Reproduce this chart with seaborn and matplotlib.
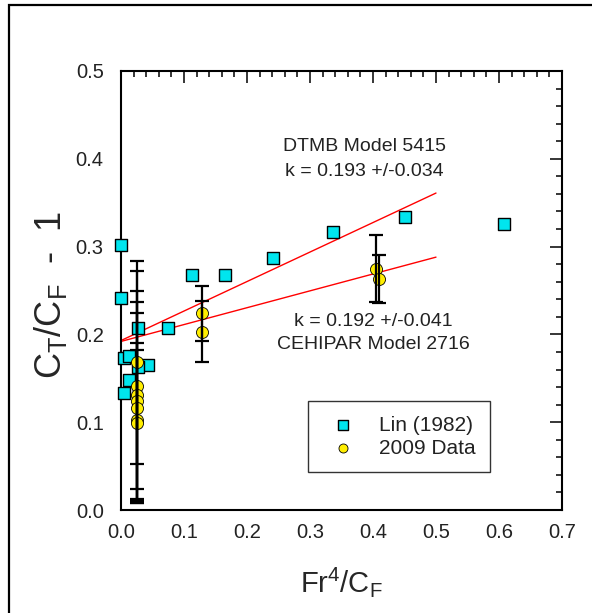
import numpy as np
import pandas as pd
import matplotlib
matplotlib.use("Agg")
import matplotlib.pyplot as plt
from matplotlib.patches import Rectangle
from matplotlib.ticker import MultipleLocator, FormatStrFormatter
import seaborn as sns

sns.set_theme(style="white")
plt.rcParams["font.family"] = ["Liberation Sans", "DejaVu Sans"]
plt.rcParams["mathtext.fontset"] = "custom"
plt.rcParams["mathtext.rm"] = "Liberation Sans"
plt.rcParams["mathtext.it"] = "Liberation Sans"

# Lin (1982) measurements
lin_x = [0.000, 0.000, 0.027, 0.074, 0.004, 0.012, 0.043, 0.027, 0.012, 0.004,
         0.112, 0.165, 0.241, 0.336, 0.451, 0.608]
lin_y = [0.302, 0.242, 0.207, 0.207, 0.173, 0.175, 0.165, 0.163, 0.148, 0.133,
         0.268, 0.268, 0.287, 0.317, 0.334, 0.326]

# 2009 data with uncertainty
new_x = [0.025, 0.025, 0.026, 0.026, 0.026, 0.025, 0.025,
         0.128, 0.129, 0.405, 0.410]
new_y = [0.168, 0.141, 0.131, 0.124, 0.116, 0.103, 0.099,
         0.224, 0.203, 0.275, 0.263]
new_err = [0.116, 0.131, 0.118, 0.113, 0.108, 0.079, 0.091,
           0.031, 0.035, 0.038, 0.027]

# Linear fits: intercept k and slope
fit_k = [0.193, 0.192]
fit_slope = [0.336, 0.192]
fit_xmax = 0.5

fig = plt.figure(figsize=(5.92, 6.13), dpi=100)
ax = fig.add_axes([121 / 592, 103 / 613, 441 / 592, 439 / 613])

# outer frame
fig.patches.append(Rectangle((9 / 592, -0.1), 1.2, (613 - 5) / 613 + 0.1,
                             transform=fig.transFigure, fill=False,
                             edgecolor="black", linewidth=1.6))

# fitted lines
for k, s in zip(fit_k, fit_slope):
    xs = np.array([0.0, fit_xmax])
    sns.lineplot(x=xs, y=k + s * xs, ax=ax, color="red", linewidth=1.0,
                 zorder=2)

lin_df = pd.DataFrame({"x": lin_x, "y": lin_y})
new_df = pd.DataFrame({"x": new_x, "y": new_y})

sns.scatterplot(data=lin_df, x="x", y="y", ax=ax, marker="s", s=75,
                color="#00e5ee", edgecolor="black", linewidth=1.0, zorder=3,
                label="Lin (1982)", clip_on=False)
sns.scatterplot(data=new_df, x="x", y="y", ax=ax, marker="o", s=75,
                color="#ffee00", edgecolor="black", linewidth=0.6, zorder=4,
                label="2009 Data", clip_on=False)
ax.errorbar(new_x, new_y, yerr=new_err, fmt="none", ecolor="black",
            elinewidth=1.6, capsize=5, capthick=1.6, zorder=5)

ax.set_xlim(0, 0.7)
ax.set_ylim(0, 0.5)
ax.xaxis.set_major_locator(MultipleLocator(0.1))
ax.xaxis.set_minor_locator(MultipleLocator(0.02))
ax.yaxis.set_major_locator(MultipleLocator(0.1))
ax.yaxis.set_minor_locator(MultipleLocator(0.02))
ax.xaxis.set_major_formatter(FormatStrFormatter("%.1f"))
ax.yaxis.set_major_formatter(FormatStrFormatter("%.1f"))
ax.tick_params(which="both", direction="in", top=True, right=True,
               color="black", width=1.1)
ax.tick_params(which="major", length=8.5, labelsize=14.5,
               labelcolor="#222222")
ax.tick_params(axis="x", which="major", pad=9.5)
ax.tick_params(axis="y", which="major", pad=12.5)
ax.tick_params(which="minor", length=4.3)
for sp in ax.spines.values():
    sp.set_color("black")
    sp.set_linewidth(1.5)

ax.set_xlabel(r"Fr$^{4}$/C$_{\mathrm{F}}$", fontsize=21)
ax.set_ylabel(r"C$_{\mathrm{T}}$/C$_{\mathrm{F}}$  -  1", fontsize=26)
ax.xaxis.set_label_coords(0.5, -0.125)
ax.yaxis.set_label_coords(-0.118, 0.49)

txt = dict(fontsize=14, color="#222222", ha="center", va="center")
ax.text(0.387, 0.414, "DTMB Model 5415", **txt)
ax.text(0.387, 0.386, "k = 0.193 +/-0.034", **txt)
ax.text(0.400, 0.215, "k = 0.192 +/-0.041", **txt)
ax.text(0.400, 0.188, "CEHIPAR Model 2716", **txt)

leg = ax.legend(loc="upper left", bbox_to_anchor=(187 / 441, 109 / 439),
                frameon=True, fontsize=15, fancybox=False, markerscale=0.75,
                borderpad=0.7, handletextpad=0.7, labelspacing=0.2,
                borderaxespad=0, handlelength=2.0)
leg.get_frame().set_edgecolor("black")
leg.get_frame().set_linewidth(1.0)
for t in leg.get_texts():
    t.set_color("#222222")

fig.savefig("out.png", dpi=100)
